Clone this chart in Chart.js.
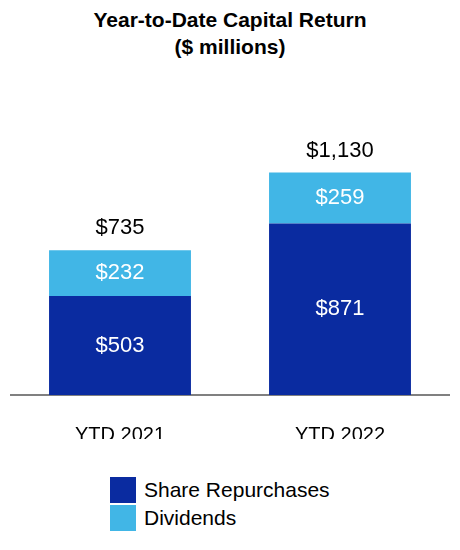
<!DOCTYPE html>
<html><head><meta charset="utf-8">
<script src="https://cdn.jsdelivr.net/npm/chart.js@4"></script>
<style>
body{margin:0;width:460px;height:550px;background:#fff;font-family:"Liberation Sans",Arial,sans-serif;position:relative;overflow:hidden}
#title{position:absolute;top:6px;left:0;width:460px;text-align:center;font-weight:bold;font-size:21px;line-height:27px;color:#000}
#wrap{position:absolute;left:10px;top:100px;width:440px;height:339px}
#legend{position:absolute;left:110px;top:476px;font-size:21px;color:#000}
.li{display:flex;align-items:center;height:28px}
.sw{width:26px;height:26px;margin-right:8px}
</style></head><body>
<div id="title">Year-to-Date Capital Return<br>($ millions)</div>
<div id="wrap"><canvas id="c"></canvas></div>
<div id="legend">
  <div class="li"><div class="sw" style="background:#0A2BA0"></div>Share Repurchases</div>
  <div class="li"><div class="sw" style="background:#41B6E6"></div>Dividends</div>
</div>
<script>
const categories = ['YTD 2021','YTD 2022'];
const repurchases = [503, 871];
const dividends = [232, 259];
const totals = ['$735','$1,130'];

const labelPlugin = {
  id:'labels',
  afterDatasetsDraw(chart){
    const ctx = chart.ctx;
    ctx.save();
    ctx.font = '22px "Liberation Sans", Arial, sans-serif';
    ctx.textAlign = 'center'; ctx.textBaseline = 'middle';
    chart.data.datasets.forEach((ds, di) => {
      chart.getDatasetMeta(di).data.forEach((bar, i) => {
        ctx.fillStyle = '#fff';
        ctx.fillText('$' + ds.data[i], bar.x, (bar.y + bar.base) / 2);
      });
    });
    const top = chart.getDatasetMeta(1).data;
    ctx.fillStyle = '#000';
    top.forEach((bar, i) => ctx.fillText(totals[i], bar.x, bar.y - 22));
    ctx.restore();
  }
};

new Chart(document.getElementById('c'), {
  type:'bar',
  data:{
    labels: categories,
    datasets:[
      {label:'Share Repurchases', data:repurchases, backgroundColor:'#0A2BA0', barPercentage:0.645, categoryPercentage:1},
      {label:'Dividends', data:dividends, backgroundColor:'#41B6E6', barPercentage:0.645, categoryPercentage:1}
    ]
  },
  options:{
    responsive:true, maintainAspectRatio:false, animation:false,
    layout:{padding:{top:39,left:0,right:0,bottom:0}},
    plugins:{legend:{display:false}, tooltip:{enabled:false}},
    scales:{
      x:{stacked:true, grid:{display:false},
         border:{display:true, color:'#808080', width:2},
         ticks:{color:'#000', font:{size:20, family:'"Liberation Sans", Arial, sans-serif'}, padding:20},
         afterFit(s){ s.height = 44; }},
      y:{stacked:true, display:false, min:0, max:1300}
    }
  },
  plugins:[labelPlugin]
});
</script>
</body></html>
